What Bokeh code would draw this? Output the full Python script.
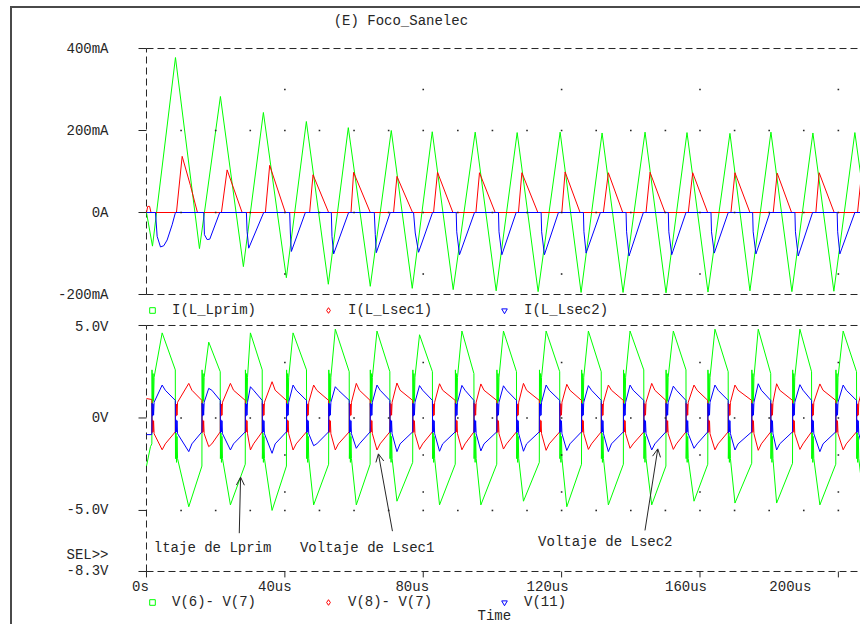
from bokeh.plotting import figure
from bokeh.layouts import column
from bokeh.models import (Range1d, LinearAxis, FixedTicker, ColumnDataSource,
                          Legend, LegendItem, Arrow, OpenHead)
from bokeh.core.properties import value
from bokeh.embed import file_html
from bokeh.resources import INLINE

FONT = "Liberation Mono"
FS = "14px"
INK = "#262626"
GREEN = "#00ff00"
RED = "#ff0000"
BLUE = "#0000ff"
DASH = "7 4"

title_text = "(E) Foco_Sanelec"

# ---------------- time axis (microseconds) ----------------
t_ticks = [0, 40, 80, 120, 160, 200]
t_labels = ["0s", "40us", "80us", "120us", "160us", "200us"]
t_label_shift = [-6, -10, -11, -14, -14, -48]
t_minor = [10, 20, 30, 40, 50, 60, 70, 80, 90, 100, 110, 120, 130, 140, 150,
           160, 170, 180, 190, 200]
t_major = [40, 80, 120, 160, 200]
t_start, t_end = -7.514, 206.4
time_label = "Time"

# ---------------- upper panel: currents (mA) ----------------
i_ticks = [-200, 0, 200, 400]
i_labels = ["-200mA", "0A", "200mA", "400mA"]
i_names = ["I(L_Lprim)", "I(L_Lsec1)", "I(L_Lsec2)"]
i_dot_rows_fine = [200, 0]
i_dot_rows_coarse = [300, -150]

ilp_t = [0.0, 1.73, 8.38, 15.31, 21.37, 28.01, 33.79, 40.43, 46.21, 52.56,
         58.34, 64.69, 70.76, 76.82, 82.60, 88.66, 95.02, 101.08, 107.15, 113.21,
         119.57, 125.63, 131.70, 137.76, 144.12, 150.18, 156.25, 162.31, 168.66, 174.44,
         180.51, 186.57, 192.64, 198.70, 204.77, 206.4]
ilp_v = [0, -82, 378, -88, 283, -132, 244, -159, 222, -175,
         207, -180, 200, -185, 197, -188, 196, -191, 195, -193,
         196, -195, 194, -195, 196, -196, 195, -194, 193, -191,
         196, -193, 194, -192, 195, 95]

is1_t = [0.0, 0.35, 0.9, 1.3, 8.66, 10.31, 12.7, 14.73,
         21.66, 23.31, 27.64,
         34.37, 35.61, 40.14,
         47.16, 48.14, 52.65,
         59.12, 59.87, 64.69,
         71.42, 72.40, 76.91,
         82.98, 84.13, 88.58,
         95.22, 96.26, 100.79,
         107.52, 108.51, 113.13,
         120.06, 121.01, 125.34,
         132.07, 133.51, 137.67,
         144.40, 145.56, 149.89,
         156.62, 157.89, 162.22,
         168.95, 170.11, 174.44,
         181.17, 182.32, 186.48,
         193.50, 194.45, 198.79,
         205.55, 206.4]
is1_v = [0, 15, 15, 0, 0, 137, 66, 0,
         0, 104, 0,
         0, 115, 0,
         0, 92, 0,
         0, 98, 0,
         0, 88, 0,
         0, 98, 0,
         0, 97, 0,
         0, 97, 0,
         0, 99, 0,
         0, 97, 0,
         0, 98, 0,
         0, 97, 0,
         0, 97, 0,
         0, 96, 0,
         0, 97, 0,
         0, 70]

is2_t = [0.0, 2.60, 3.08, 4.04, 5.00, 5.97, 7.41, 8.37,
         16.55, 16.75, 17.53, 18.29, 21.17,
         28.88, 29.08, 29.55, 33.88,
         41.39, 41.59, 41.88, 45.92,
         53.43, 53.62, 54.10, 58.43,
         65.85, 66.14, 66.43, 70.47,
         77.20, 77.69, 78.65, 82.69,
         89.53, 89.68, 90.48, 94.82,
         101.75, 101.90, 102.73, 106.86,
         114.08, 114.23, 115.03, 119.08,
         126.30, 126.45, 127.08, 131.21,
         138.63, 138.78, 139.49, 143.63,
         150.84, 150.99, 151.83, 155.96,
         163.18, 163.33, 164.13, 168.17,
         175.22, 175.37, 176.17, 180.22,
         187.44, 187.59, 188.39, 192.55,
         199.65, 199.80, 200.43, 204.77,
         206.4]
is2_v = [0, 0, -58, -84, -81, -67, -30, 0,
         0, -54, -66, -65, 0,
         0, -46, -87, 0,
         0, -50, -95, 0,
         0, -58, -101, 0,
         0, -54, -98, 0,
         0, -50, -97, 0,
         0, -47, -103, 0,
         0, -47, -103, 0,
         0, -47, -103, 0,
         0, -47, -99, 0,
         0, -47, -106, 0,
         0, -47, -103, 0,
         0, -47, -99, 0,
         0, -47, -101, 0,
         0, -47, -106, 0,
         0, -47, -101, 0,
         0]

# ---------------- lower panel: voltages (V) ----------------
v_ticks = [-8.3, -5, 0, 5]
v_labels = ["SEL>>\n-8.3V\n ", "-5.0V", "0V", "5.0V"]
v_names = ["V(6)- V(7)", "V(8)- V(7)", "V(11)"]
v_dot_rows_fine = [0, -5]
v_dot_rows_coarse = [3, -2, -4]

# switching instants (us)
jump_t = [1.6, 16.07, 28.6, 40.5, 52.7, 64.7, 77.0, 89.3, 101.3, 113.6, 125.8,
          137.9, 150.2, 162.3, 175.0, 186.8, 199.3]
drop_t = [8.38, 21.37, 33.5, 46.3, 58.65, 70.4, 82.7, 94.7, 107.0, 119.5, 131.5,
          143.8, 156.0, 168.2, 180.5, 192.3, 205.3]
# V(6)-V(7) peaks / troughs
vp_peak_t = [4.53, 17.99, 30.04, 42.37, 54.58, 66.63, 78.93, 91.18, 103.19, 115.52,
             127.74, 139.78, 152.29, 164.33, 176.84, 188.88, 201.39]
vp_peak_v = [4.6, 4.1, 4.6, 4.6, 4.8, 4.7, 4.5, 4.7, 4.7, 4.7, 4.7, 4.7, 4.7, 4.8,
             4.8, 4.8, 4.7]
vp_trough_t = [12.22, 24.26, 36.30, 48.32, 60.65, 72.40, 84.71, 96.66, 108.97, 121.50,
               133.51, 146.05, 158.27, 170.11, 182.15, 194.66]
vp_trough_v = [-4.8, -4.7, -5.0, -4.7, -4.7, -4.5, -4.7, -4.7, -4.5, -4.8, -4.7, -4.7,
               -4.5, -4.6, -4.6, -4.7]
vp_pre_jump = [-1.4, -2.6, -2.5, -2.6, -2.5, -2.5, -2.4, -2.5, -2.5, -2.4, -2.5, -2.5,
               -2.6, -2.5, -2.45, -2.45, -2.5]
vp_pre_drop = [2.6, 2.5, 2.6, 2.6, 2.5, 2.5, 2.5, 2.4, 2.5, 2.5, 2.5, 2.6, 2.6, 2.5,
               2.4, 2.5, 2.5]
vp_start_t, vp_start_v = [0.0, 1.15], [-2.6, -1.55]
# V(8)-V(7): trough at each V(6)-V(7) peak, peak at each trough
v8_at_peak = [-1.72, -1.55, -1.73, -1.73, -1.73, -1.73, -1.7, -1.72, -1.68, -1.75,
              -1.7, -1.64, -1.7, -1.72, -1.75, -1.7, -1.72]
v8_at_trough = [1.87, 1.87, 1.96, 1.78, 1.87, 1.89, 1.85, 1.84, 1.87, 1.82, 1.78,
                1.87, 1.78, 1.78, 1.85, 1.84]
v8_start_t, v8_start_v = [0.0, 1.5], [1.05, 1.0]
# V(11): peak at each V(6)-V(7) peak, trough at each trough
v11_at_peak = [1.78, 1.6, 1.69, 1.78, 1.69, 1.78, 1.75, 1.76, 1.74, 1.78, 1.75, 1.78,
               1.72, 1.78, 1.85, 1.8, 1.78]
v11_at_trough = [-1.82, -1.73, -1.91, -1.5, -1.64, -1.82, -1.8, -1.78, -1.8, -1.76,
                 -1.82, -1.73, -1.64, -1.73, -1.73, -1.82]
v11_start_t, v11_start_v = [0.0, 1.5], [-0.9, -0.9]

# ringing right after each switching instant (offsets in us, levels in V)
ring_dt = [0.0, 0.15, 0.3, 0.45, 0.6]
g_ring_up = [2.6, 0.7, 2.4, 0.9, 2.2]
g_ring_dn = [-2.2, -0.8, -2.4, -1.0, -2.2]
rb_ring_up = [0.8, 0.1, 0.75, 0.15, 0.85]
rb_ring_dn = [-0.8, -0.1, -0.75, -0.15, -0.85]

# annotations
ann_text = ["ltaje de Lprim", "Voltaje de Lsec1", "Voltaje de Lsec2"]
ann_t = [2.11, 44.36, 113.2]
ann_v = [-7.04, -7.04, -6.73]
arr_t0 = [26.82, 71.1, 144.1]
arr_v0 = [-6.23, -6.12, -6.08]
arr_t1 = [27.2, 67.04, 147.8]
arr_v1 = [-3.2, -1.94, -1.67]

# ---------------- layout constants (pixels / display units) ----------------
W = 848
H1, H2 = 310, 306
FRAME_LEFT = 108
I_RANGE = (-258.5, 497.6)        # mA shown over the upper canvas height
V_RANGE = (-11.166, 5.378)       # V shown over the lower canvas height
TITLE_POS = (54.1, 468.3)
TICKLABEL_V = -9.15
TIME_POS = (95.7, -10.68)
X_TICK_LEN = 0.32                # V  (6 px)
Y_TICK_LEN = 2.31                # us (8 px)


def pick(seq, k):
    return seq[k] if isinstance(seq, list) else seq


def build(start_t, start_v, jump_pre, jump_ring, at_peak, peak_mid,
          drop_pre, drop_ring, at_trough, trough_mid, end_v):
    ts, vs = list(start_t), list(start_v)
    for k in range(len(jump_t)):
        j = jump_t[k]
        ts += [j - 0.05] + [j + d for d in ring_dt]
        vs += [pick(jump_pre, k)] + list(jump_ring)
        ts.append(vp_peak_t[k]); vs.append(at_peak[k])
        if peak_mid is not None:
            ts.append(vp_peak_t[k] + 0.9); vs.append(peak_mid)
        d0 = drop_t[k]
        ts += [d0 - 0.05] + [d0 + d for d in ring_dt]
        vs += [pick(drop_pre, k)] + list(drop_ring)
        if k < len(vp_trough_t):
            ts.append(vp_trough_t[k]); vs.append(at_trough[k])
            if trough_mid is not None:
                ts.append(vp_trough_t[k] + 0.9); vs.append(trough_mid)
    ts.append(t_end); vs.append(end_v)
    return ts, vs


vp_t, vp_v = build(vp_start_t, vp_start_v, vp_pre_jump, g_ring_up, vp_peak_v, None,
                   vp_pre_drop, g_ring_dn, vp_trough_v, None, -3.0)
v8_t, v8_v = build(v8_start_t, v8_start_v, 0.95, rb_ring_dn, v8_at_peak, -1.4,
                   -0.75, rb_ring_up, v8_at_trough, 1.5, 1.2)
v11_t, v11_v = build(v11_start_t, v11_start_v, -0.75, rb_ring_up, v11_at_peak, 1.5,
                     0.95, rb_ring_dn, v11_at_trough, -1.4, -1.2)

xr = Range1d(t_start, t_end)


def make_fig(height, yr):
    p = figure(width=W, height=height, x_range=xr, y_range=Range1d(*yr),
               output_backend="svg", toolbar_location=None,
               x_axis_location=None, y_axis_location=None,
               min_border_left=FRAME_LEFT, min_border_right=0,
               min_border_top=0, min_border_bottom=0)
    p.outline_line_color = None
    p.xgrid.visible = False
    p.ygrid.visible = False
    p.background_fill_color = "white"
    p.border_fill_color = "white"
    return p


def left_axis(p, ticks, labels):
    ax = LinearAxis(ticker=FixedTicker(ticks=ticks),
                    major_label_overrides=dict(zip(ticks, labels)))
    ax.axis_line_color = None
    ax.major_tick_line_color = None
    ax.major_tick_in = 0
    ax.major_tick_out = 0
    ax.minor_tick_line_color = None
    ax.major_label_standoff = 12
    ax.major_label_text_font = FONT
    ax.major_label_text_font_size = FS
    ax.major_label_text_color = INK
    ax.major_label_text_line_height = 1.0
    p.add_layout(ax, "left")
    # the short tick marks that stick out of the left border
    p.segment(x0=[-Y_TICK_LEN] * len(ticks), y0=ticks, x1=[0] * len(ticks), y1=ticks,
              line_color=INK, line_width=1)


def frame_box(p, lo, hi):
    p.segment(x0=[0, 0, 0], y0=[lo, hi, lo], x1=[t_end, t_end, 0], y1=[lo, hi, hi],
              line_color=INK, line_width=1, line_dash=DASH)


def dots(p, fine_rows, coarse_rows):
    dx = [x for _ in fine_rows for x in t_minor] + [x for _ in coarse_rows for x in t_major]
    dy = [y for y in fine_rows for _ in t_minor] + [y for y in coarse_rows for _ in t_major]
    p.scatter(dx, dy, marker="square", size=1.6, fill_color=INK, line_color=None)


def legend(p, names, series, y):
    markers = ["square", "diamond", "inverted_triangle"]
    colors = [GREEN, RED, BLUE]
    rends = []
    for (xs, ys), m, c in zip(series, markers, colors):
        r = p.scatter(x=xs[:1], y=ys[:1], marker=m, size=6, fill_color=None,
                      line_color=c, line_width=1)
        r.visible = False        # only used as the legend key
        rends.append(r)
    leg = Legend(items=[LegendItem(label=n, renderers=[r]) for n, r in zip(names, rends)],
                 orientation="horizontal", location=(25, y),
                 glyph_width=14, glyph_height=16, label_height=16, label_standoff=13,
                 spacing=65, padding=0, margin=0, border_line_color=None,
                 background_fill_alpha=0, inactive_fill_alpha=0,
                 label_text_font=FONT, label_text_font_size=FS, label_text_color=INK)
    p.add_layout(leg)


def txt(p, xs, ys, texts, align="left"):
    p.text(x=xs, y=ys, text=texts, text_font=value(FONT), text_font_size=value(FS),
           text_color=INK, text_align=align, text_baseline="middle")


# ---------------- upper figure ----------------
p1 = make_fig(H1, I_RANGE)
left_axis(p1, i_ticks, i_labels)
frame_box(p1, i_ticks[0], i_ticks[-1])
p1.line(ilp_t, ilp_v, line_color=GREEN, line_width=1)
p1.line(is1_t, is1_v, line_color=RED, line_width=1)
p1.line(is2_t, is2_v, line_color=BLUE, line_width=1)
dots(p1, i_dot_rows_fine, i_dot_rows_coarse)
txt(p1, [TITLE_POS[0]], [TITLE_POS[1]], [title_text])
legend(p1, i_names, [(ilp_t, ilp_v), (is1_t, is1_v), (is2_t, is2_v)], 0)

# ---------------- lower figure ----------------
p2 = make_fig(H2, V_RANGE)
left_axis(p2, v_ticks, v_labels)
frame_box(p2, v_ticks[0], v_ticks[-1])
p2.line(vp_t, vp_v, line_color=GREEN, line_width=1)
p2.line(v8_t, v8_v, line_color=RED, line_width=1)
p2.line(v11_t, v11_v, line_color=BLUE, line_width=1)
dots(p2, v_dot_rows_fine, v_dot_rows_coarse)
# time axis: tick marks and their labels
p2.segment(x0=t_ticks, y0=[v_ticks[0]] * len(t_ticks), x1=t_ticks,
           y1=[v_ticks[0] - X_TICK_LEN] * len(t_ticks), line_color=INK, line_width=1)
tick_src = ColumnDataSource(dict(x=t_ticks, y=[TICKLABEL_V] * len(t_ticks),
                                 text=t_labels, dx=t_label_shift))
p2.text(x="x", y="y", text="text", x_offset="dx", source=tick_src,
        text_font=value(FONT), text_font_size=value(FS), text_color=INK,
        text_align="center", text_baseline="middle")
txt(p2, [TIME_POS[0]], [TIME_POS[1]], [time_label])
txt(p2, ann_t, ann_v, ann_text)
arr_src = ColumnDataSource(dict(x0=arr_t0, y0=arr_v0, x1=arr_t1, y1=arr_v1))
p2.add_layout(Arrow(end=OpenHead(size=8, line_color=INK, line_width=1),
                    x_start="x0", y_start="y0", x_end="x1", y_end="y1",
                    source=arr_src, line_color=INK, line_width=1))
legend(p2, v_names, [(vp_t, vp_v), (v8_t, v8_v), (v11_t, v11_v)], 14)

layout = column(p1, p2, spacing=0, margin=(6, 0, 0, 10),
                styles={"border-left": "2px solid #4a4a4a",
                        "border-top": "2px solid #4a4a4a"})
open("out.html", "w").write(file_html(layout, INLINE))
